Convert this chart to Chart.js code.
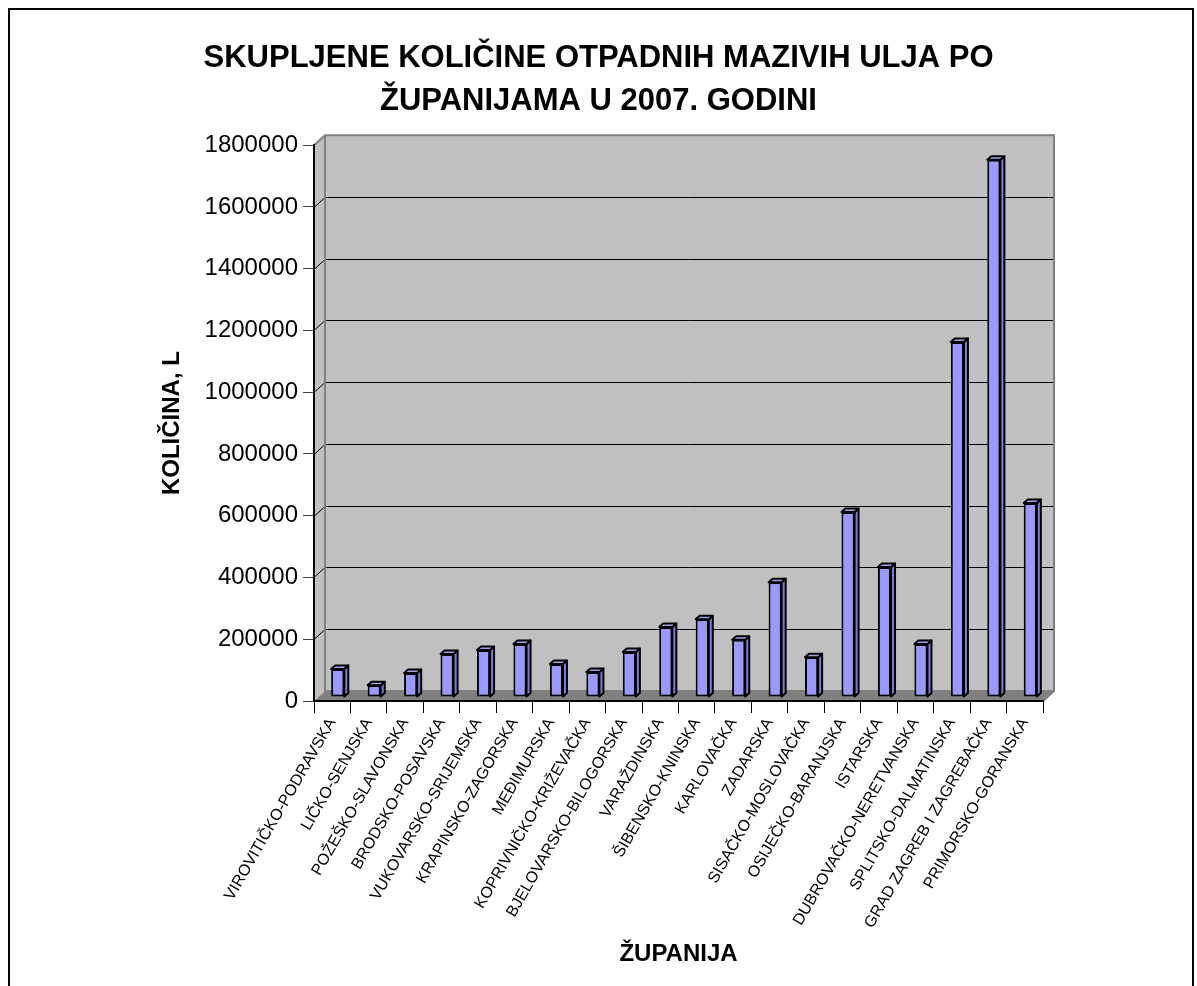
<!DOCTYPE html>
<html>
<head>
<meta charset="utf-8">
<script src="https://cdn.jsdelivr.net/npm/chart.js@4"></script>
<style>
  html, body { margin: 0; padding: 0; background: #fff; }
  canvas { display: block; }
</style>
</head>
<body>
<canvas id="chart" width="1197" height="986"></canvas>
<script>
// Podaci: županije i skupljene količine (L)
const zupanije = [
  'VIROVITIČKO-PODRAVSKA', 'LIČKO-SENJSKA', 'POŽEŠKO-SLAVONSKA', 'BRODSKO-POSAVSKA',
  'VUKOVARSKO-SRIJEMSKA', 'KRAPINSKO-ZAGORSKA', 'MEĐIMURSKA', 'KOPRIVNIČKO-KRIŽEVAČKA',
  'BJELOVARSKO-BILOGORSKA', 'VARAŽDINSKA', 'ŠIBENSKO-KNINSKA', 'KARLOVAČKA',
  'ZADARSKA', 'SISAČKO-MOSLOVAČKA', 'OSIJEČKO-BARANJSKA', 'ISTARSKA',
  'DUBROVAČKO-NERETVANSKA', 'SPLITSKO-DALMATINSKA', 'GRAD ZAGREB I ZAGREBAČKA', 'PRIMORSKO-GORANSKA'
];
const kolicine = [
  91000, 38000, 78000, 139000,
  152000, 172000, 107000, 81000,
  146000, 227000, 252000, 185000,
  372000, 129000, 599000, 421000,
  172000, 1150000, 1740000, 628000
];
const yMax = 1800000;
const yStep = 200000;

const naslov = ['SKUPLJENE KOLIČINE OTPADNIH MAZIVIH ULJA PO', 'ŽUPANIJAMA U 2007. GODINI'];
const naslovY = 'KOLIČINA, L';
const naslovX = 'ŽUPANIJA';

const FONT = "'Liberation Sans', Arial, sans-serif";
const DEPTH = { x: 11, y: -10 };   // dubina 3D zida
const BAR_DEPTH = { x: 4, y: -3.5 };

// Pozadina, okvir i 3D zidovi (ispod svega)
const wallsPlugin = {
  id: 'walls',
  beforeDraw(chart) {
    const ctx = chart.ctx;
    const { left: L, right: R, top: T, bottom: B } = chart.chartArea;
    const ys = chart.scales.y;
    ctx.save();
    ctx.fillStyle = '#fff';
    ctx.fillRect(0, 0, chart.width, chart.height);

    // okvir slike
    ctx.strokeStyle = '#000';
    ctx.lineWidth = 2;
    ctx.beginPath();
    ctx.moveTo(9, chart.height + 2);
    ctx.lineTo(9, 9);
    ctx.lineTo(1193, 9);
    ctx.lineTo(1193, chart.height + 2);
    ctx.stroke();

    const dx = DEPTH.x, dy = DEPTH.y;
    // lijevi zid
    ctx.fillStyle = '#C0C0C0';
    ctx.beginPath();
    ctx.moveTo(L, T); ctx.lineTo(L + dx, T + dy); ctx.lineTo(L + dx, B + dy); ctx.lineTo(L, B);
    ctx.closePath();
    ctx.fill();
    // stražnji zid
    ctx.fillRect(L + dx, T + dy, R - L, B - T);

    // pod
    ctx.fillStyle = '#808080';
    ctx.beginPath();
    ctx.moveTo(L, B); ctx.lineTo(R, B); ctx.lineTo(R + dx, B + dy); ctx.lineTo(L + dx, B + dy);
    ctx.closePath();
    ctx.fill();

    // mreža na zidovima
    ctx.lineWidth = 1;
    ctx.strokeStyle = '#000';
    for (let v = yStep; v < yMax; v += yStep) {
      const y = Math.round(ys.getPixelForValue(v)) + 0.5;
      ctx.beginPath();
      ctx.moveTo(L, y); ctx.lineTo(L + dx, y + dy); ctx.lineTo(R + dx, y + dy);
      ctx.stroke();
    }
    // rubovi zidova
    ctx.strokeStyle = '#808080';
    ctx.lineWidth = 2;
    ctx.beginPath();
    ctx.moveTo(L, T); ctx.lineTo(L + dx, T + dy); ctx.lineTo(R + dx, T + dy);
    ctx.lineTo(R + dx, B + dy); ctx.lineTo(R, B);
    ctx.moveTo(L + dx, T + dy); ctx.lineTo(L + dx, B + dy); ctx.lineTo(R + dx, B + dy);
    ctx.stroke();
    ctx.restore();
  }
};

// Stupci pomaknuti u sredinu dubine + bočna i gornja ploha
const barsPlugin = {
  id: 'bars3d',
  beforeDatasetsDraw(chart) {
    chart.ctx.save();
    chart.ctx.translate(DEPTH.x / 2, -4);
  },
  afterDatasetsDraw(chart) {
    const ctx = chart.ctx;
    const meta = chart.getDatasetMeta(0);
    const bx = BAR_DEPTH.x, by = BAR_DEPTH.y;
    ctx.lineWidth = 2;
    ctx.strokeStyle = '#000';
    ctx.lineJoin = 'round';
    meta.data.forEach(bar => {
      const { x, y, base, width } = bar.getProps(['x', 'y', 'base', 'width'], true);
      const l = x - width / 2, r = x + width / 2;
      // bočna ploha
      ctx.fillStyle = '#7B7BDB';
      ctx.beginPath();
      ctx.moveTo(r, y); ctx.lineTo(r + bx, y + by); ctx.lineTo(r + bx, base + by); ctx.lineTo(r, base);
      ctx.closePath();
      ctx.fill(); ctx.stroke();
      // gornja ploha
      ctx.fillStyle = '#A0A0F0';
      ctx.beginPath();
      ctx.moveTo(l, y); ctx.lineTo(l + bx, y + by); ctx.lineTo(r + bx, y + by); ctx.lineTo(r, y);
      ctx.closePath();
      ctx.fill(); ctx.stroke();
    });
    ctx.restore();
  }
};

new Chart(document.getElementById('chart'), {
  type: 'bar',
  data: {
    labels: zupanije,
    datasets: [{
      data: kolicine,
      backgroundColor: '#9999FF',
      borderColor: '#000',
      borderWidth: 2,
      borderSkipped: false,
      barPercentage: 0.36,
      categoryPercentage: 1.0
    }]
  },
  options: {
    responsive: false,
    animation: false,
    devicePixelRatio: 1,
    layout: { padding: { left: 154, right: 154, top: 20, bottom: 0 } },
    plugins: {
      legend: { display: false },
      tooltip: { enabled: false },
      title: {
        display: true,
        text: naslov,
        color: '#000',
        font: { family: FONT, size: 31, weight: 'bold', lineHeight: 1.39 },
        padding: { top: 17, bottom: 22 }
      }
    },
    scales: {
      x: {
        afterFit: s => { s.height = 285; },
        grid: { offset: true, drawOnChartArea: false, drawTicks: true, tickLength: 12, color: '#000', lineWidth: 1 },
        border: { display: true, color: '#000', width: 2 },
        ticks: {
          autoSkip: false, minRotation: 60, maxRotation: 60, padding: 2,
          color: '#000', font: { family: FONT, size: 16 }
        },
        title: {
          display: true, text: naslovX, color: '#000',
          font: { family: FONT, size: 24, weight: 'bold' },
          padding: { top: 0, bottom: 17 }
        }
      },
      y: {
        min: 0, max: yMax,
        afterFit: s => { s.width = 160; },
        grid: { drawOnChartArea: false, drawTicks: true, tickLength: 11, color: '#404040', lineWidth: 1 },
        border: { display: true, color: '#000', width: 2 },
        ticks: {
          stepSize: yStep, padding: 5, color: '#000',
          font: { family: FONT, size: 24 },
          callback: v => String(v)
        },
        title: {
          display: true, text: naslovY, color: '#000',
          font: { family: FONT, size: 24, weight: 'bold' },
          padding: { top: 4, bottom: 0 }
        }
      }
    }
  },
  plugins: [wallsPlugin, barsPlugin]
});
</script>
</body>
</html>
